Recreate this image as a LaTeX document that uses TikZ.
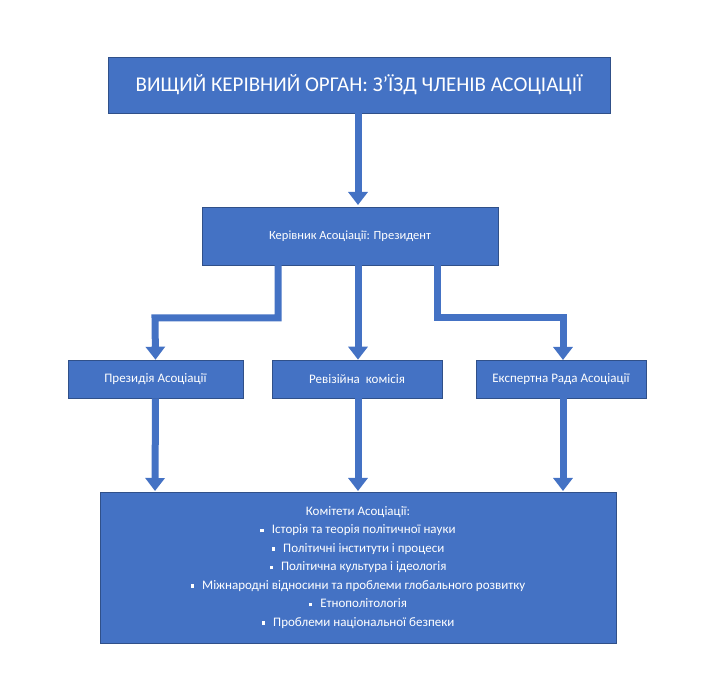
\documentclass[tikz,border=0pt]{standalone}
\usepackage{fontspec}
\setmainfont{Carlito}
\usetikzlibrary{arrows.meta}
\definecolor{bx}{HTML}{4472C4}
\begin{document}
\begin{tikzpicture}[x=1pt,y=-1pt,
  box/.style={fill=bx,draw=bx!70!black,line width=0.6pt,text=white,inner sep=0pt},
  arr/.style={draw=bx,line width=7pt,line join=miter,-{Triangle[width=19pt,length=13pt]}},
  sq/.style={}]
\useasboundingbox (0,0) rectangle (721,700);
\node[box,minimum width=502,minimum height=56,font=\fontsize{21}{24}\selectfont] (top) at (359,85) {ВИЩИЙ КЕРІВНИЙ ОРГАН: З'ЇЗД ЧЛЕНІВ АСОЦІАЦІЇ};
\node[box,minimum width=296,minimum height=58,font=\fontsize{12.5}{15}\selectfont] (pres) at (350,236) {Керівник Асоціації: Президент};
\node[box,minimum width=175,minimum height=38,font=\fontsize{13}{15}\selectfont] (a) at (155.5,379) {Президія Асоціації};
\node[box,minimum width=170,minimum height=38,font=\fontsize{13}{15}\selectfont] (b) at (357,379) {Ревізійна\ \ комісія};
\node[box,minimum width=170,minimum height=38,font=\fontsize{13}{15}\selectfont] (c) at (561,379) {Експертна Рада Асоціації};
\newcommand{\bul}{\raisebox{1.5pt}{\rule{3.5pt}{3.5pt}}\hspace{8pt}}
\node[box,minimum width=516,minimum height=151,font=\fontsize{13}{18.5}\selectfont,align=center] (k) at (358,567.5) {Комітети Асоціації:\\
\bul Історія та теорія політичної науки\\
\bul Політичні інститути і процеси\\
\bul Політична культура і ідеологія\\
\bul Міжнародні відносини та проблеми глобального розвитку\\
\bul Етнополітологія\\
\bul Проблеми національної безпеки};
\coordinate (p1) at (278,265);
\coordinate (p3) at (437,265);
\draw[arr] (top.south -| 358,0) -- (358,205);
\draw[arr] (p1) -- (278,318) -- (155,318) -- (a.north);
\draw[arr] (pres.south -| 358,0) -- (b.north -| 358,0);
\draw[arr] (p3) -- (437,318) -- (563,318) -- (563,360);
\draw[arr] (a.south) -- (155,491);
\draw[arr] (b.south -| 358,0) -- (358,491);
\draw[arr] (563,398) -- (563,491);
\end{tikzpicture}
\end{document}
